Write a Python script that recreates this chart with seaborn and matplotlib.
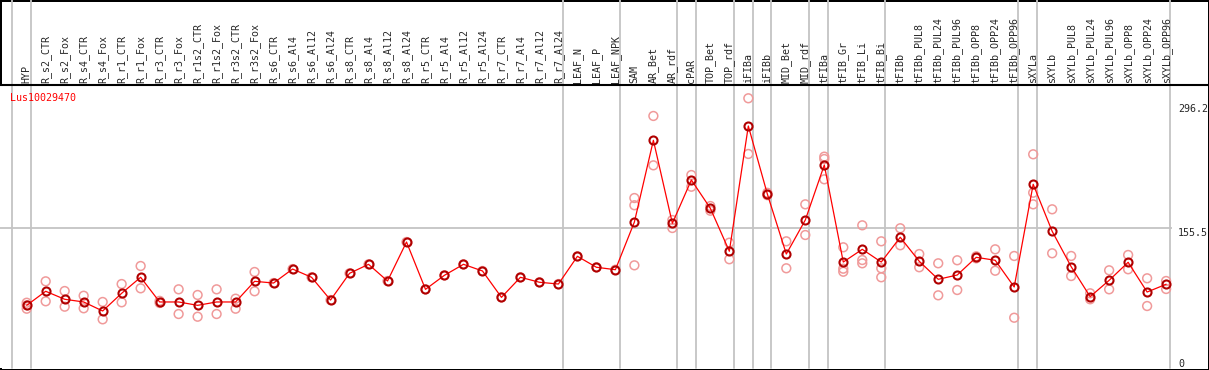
import matplotlib
matplotlib.use("Agg")
import numpy as np
import pandas as pd
import matplotlib.pyplot as plt
import seaborn as sns

gene_id = "Lus10029470"

samples = [
    "HYP", "R_s2_CTR", "R_s2_Fox", "R_s4_CTR", "R_s4_Fox", "R_r1_CTR", "R_r1_Fox",
    "R_r3_CTR", "R_r3_Fox", "R_r1s2_CTR", "R_r1s2_Fox", "R_r3s2_CTR", "R_r3s2_Fox",
    "R_s6_CTR", "R_s6_Al4", "R_s6_Al12", "R_s6_Al24", "R_s8_CTR", "R_s8_Al4",
    "R_s8_Al12", "R_s8_Al24", "R_r5_CTR", "R_r5_Al4", "R_r5_Al12", "R_r5_Al24",
    "R_r7_CTR", "R_r7_Al4", "R_r7_Al12", "R_r7_Al24", "LEAF_N", "LEAF_P", "LEAF_NPK",
    "SAM", "AR_Bet", "AR_rdf", "cPAR", "TOP_Bet", "TOP_rdf", "iFIBa", "iFIBb",
    "MID_Bet", "MID_rdf", "tFIBa", "tFIB_Gr", "tFIB_Li", "tFIB_Bi", "tFIBb",
    "tFIBb_PUL8", "tFIBb_PUL24", "tFIBb_PUL96", "tFIBb_OPP8", "tFIBb_OPP24",
    "tFIBb_OPP96", "sXYLa", "sXYLb", "sXYLb_PUL8", "sXYLb_PUL24", "sXYLb_PUL96",
    "sXYLb_OPP8", "sXYLb_OPP24", "sXYLb_OPP96",
]

# mean expression per sample
mean_expr = [
    63.7, 80.4, 70.9, 67.7, 57.0, 78.0, 97.0, 67.7, 67.7, 63.7, 67.7, 67.7, 92.2,
    90.2, 106.8, 97.0, 70.0, 101.7, 112.4, 92.6, 138.9, 82.7, 99.4, 112.4, 104.5,
    73.2, 97.0, 91.1, 89.0, 121.9, 108.9, 106.0,
    162.6, 259.6, 161.1, 212.5, 178.9, 127.9, 276.6, 195.9, 124.6, 165.0, 230.3,
    115.1, 130.2, 115.1, 144.5, 116.0, 94.6, 99.7, 120.7, 117.2, 85.5,
    207.4, 151.6, 109.6, 74.0, 93.4, 114.8, 79.5, 88.7,
]

# individual replicates per sample
replicates = [
    [66.8, 63.7, 59.7], [92.2, 68.5], [80.7, 62.1], [75.1, 60.2], [67.7, 47.1],
    [89.0, 67.3], [110.4, 83.9], [66.5, 69.0], [82.7, 53.4], [76.0, 50.2],
    [82.7, 53.4], [71.6, 59.7], [103.3, 80.4],
    [90.2], [106.8], [97.0], [70.0], [101.7], [112.4], [92.6], [138.9], [82.7],
    [99.4], [112.4], [104.5], [73.2], [97.0], [91.1], [89.0], [121.9], [108.9], [106.0],
    [191.1, 182.5, 111.2], [288.5, 229.9], [165.0, 155.5], [218.4, 204.5],
    [181.6, 176.0], [138.1, 118.4], [309.5, 243.4], [194.5, 197.3],
    [139.7, 107.7], [183.6, 147.2], [240.2, 237.4, 213.3], [132.6, 107.2, 103.6],
    [158.7, 117.5, 113.6], [139.7, 107.7, 97.0], [155.2, 135.0], [124.6, 108.9],
    [113.6, 75.6], [117.2, 81.9], [119.5, 121.9], [130.2, 104.8], [122.3, 49.0],
    [243.0, 197.4, 183.6], [177.7, 125.5], [122.3, 98.5], [78.0, 70.9],
    [105.3, 82.7], [123.5, 106.5], [95.8, 62.9], [92.6, 83.1],
]

# last sample index of each tissue group (-1 = left edge)
group_ends = [-1, 0, 28, 31, 34, 35, 37, 38, 39, 41, 42, 45, 52, 53, 60]
y_ticks = [0, 155.5, 296.2]

positions = np.arange(len(samples))
rep_df = pd.DataFrame(
    [(i, v) for i, reps in enumerate(replicates) for v in reps],
    columns=["pos", "value"],
)

sns.set_style("white")
plt.rcParams["font.family"] = ["DejaVu Sans Mono"]

W, H = 1209, 370
fig = plt.figure(figsize=(W / 100, H / 100), dpi=100)
fig.patch.set_edgecolor("black")
fig.patch.set_linewidth(2)

# plot box in pixels: x 0..1172, y 85..368
ax = fig.add_axes([0, 2 / H, 1172 / W, 283 / H])
ax.set_xlim(-1.406, 60.31)
ax.set_ylim(-10.68, 325.26)
for s in ax.spines.values():
    s.set_visible(False)

gray = "#c4c4c4"
ax.axhline(155.5, color=gray, lw=1.3, zorder=0.5)
for g in group_ends:
    ax.axvline(g + 0.22, ymin=0, ymax=368 / 283, color=gray, lw=1.3,
               clip_on=False, zorder=0.5)

sns.scatterplot(data=rep_df, x="pos", y="value", ax=ax, marker="o", s=40,
                color="#f09a9a", facecolor="none", edgecolor="#f09a9a",
                linewidth=1.1, legend=False, zorder=2)
sns.lineplot(x=positions, y=mean_expr, ax=ax, color="#ff0000", lw=0.9,
             marker="o", markersize=5.8, markerfacecolor="none",
             markeredgecolor="#b00000", markeredgewidth=1.5, zorder=3)

ax.set_xlabel("")
ax.set_ylabel("")

ax.xaxis.tick_top()
ax.set_xticks(positions)
ax.set_xticklabels(samples, rotation=90, fontsize=7.2, va="bottom")
ax.tick_params(axis="x", length=0, pad=1.5)

ax.yaxis.tick_right()
ax.set_yticks(y_ticks)
ax.set_yticklabels(["0", "155.5", "296.2"], fontsize=7.2)
ax.tick_params(axis="y", length=0, pad=4.5)
for lab in ax.get_yticklabels():
    lab.set_horizontalalignment("left")
    lab.set_verticalalignment("top" if lab.get_text() != "296.2" else "center")

ax.text(10 / 1172, (368 - 97.5) / 283, gene_id, transform=ax.transAxes,
        color="#ff0000", fontsize=7.2, ha="left", va="center")

fig.add_artist(plt.Line2D([0, 1], [1 - 85 / H, 1 - 85 / H],
                          transform=fig.transFigure, color="black", lw=1.5))

fig.savefig("out.png", dpi=100)
